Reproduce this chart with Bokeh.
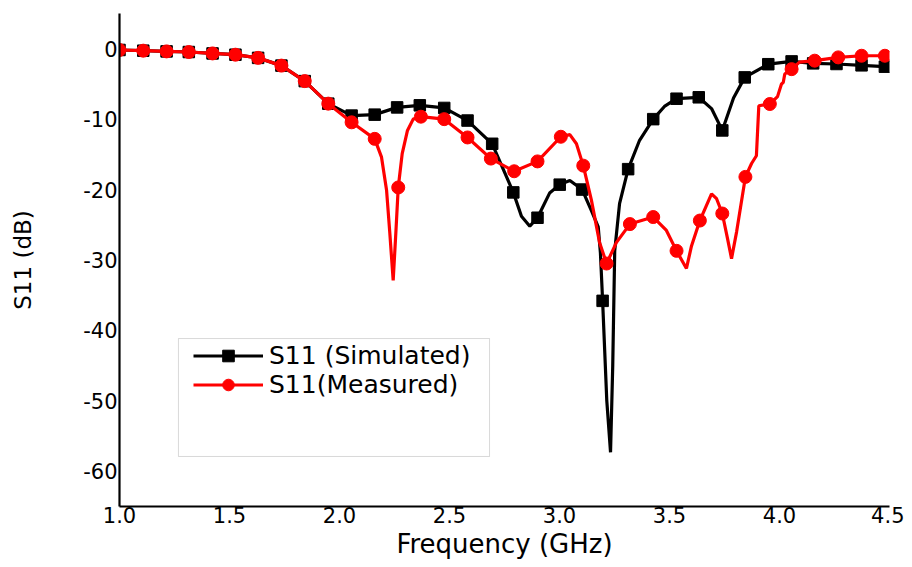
from bokeh.plotting import figure
from bokeh.models import (Range1d, FixedTicker, Legend, LegendItem, ColumnDataSource,
                          CustomJSTickFormatter, BoxAnnotation)
from bokeh.embed import file_html
from bokeh.resources import INLINE

# ---- data ----
sim_freq = [1.000, 1.108, 1.214, 1.315, 1.423, 1.527, 1.630, 1.736, 1.842, 1.949,
            2.055, 2.160, 2.262, 2.365, 2.476, 2.582, 2.694, 2.790, 2.827, 2.865,
            2.900, 2.955, 3.001, 3.047, 3.103, 3.145, 3.176, 3.186, 3.196, 3.215,
            3.232, 3.242, 3.251, 3.273, 3.312, 3.364, 3.426, 3.477, 3.532, 3.633,
            3.691, 3.740, 3.791, 3.842, 3.949, 4.055, 4.153, 4.259, 4.373, 4.479]
sim_db = [-0.18, -0.28, -0.38, -0.47, -0.67, -0.85, -1.3, -2.4, -4.6, -7.8,
          -9.5, -9.36, -8.33, -8.04, -8.41, -10.2, -13.5, -20.4, -23.8, -25.2,
          -24.0, -20.5, -19.3, -18.7, -20.0, -23.0, -25.3, -29.0, -35.8, -50.0,
          -57.3, -45.0, -28.7, -22.0, -17.1, -13.0, -10.0, -8.2, -7.1, -6.9,
          -8.5, -11.6, -7.0, -4.07, -2.2, -1.8, -2.08, -2.17, -2.36, -2.55]
sim_mark = [1, 1, 1, 1, 1, 1, 1, 1, 1, 1,
            1, 1, 1, 1, 1, 1, 1, 1, 0, 0,
            1, 0, 1, 0, 1, 0, 0, 0, 1, 0,
            0, 0, 0, 0, 1, 0, 1, 0, 1, 1,
            0, 1, 0, 1, 1, 1, 1, 1, 1, 1]

meas_freq = [1.000, 1.108, 1.214, 1.315, 1.423, 1.527, 1.630, 1.736, 1.842, 1.949,
             2.055, 2.160, 2.191, 2.214, 2.229, 2.244, 2.256, 2.267, 2.285, 2.309,
             2.335, 2.370, 2.476, 2.582, 2.688, 2.794, 2.900, 3.006, 3.047, 3.077,
             3.108, 3.145, 3.182, 3.214, 3.259, 3.320, 3.426, 3.486, 3.532, 3.577,
             3.600, 3.638, 3.691, 3.714, 3.740, 3.764, 3.782, 3.805, 3.845, 3.873,
             3.895, 3.906, 3.956, 3.991, 4.009, 4.017, 4.024, 4.055, 4.091, 4.160,
             4.267, 4.373, 4.479]
meas_db = [-0.18, -0.28, -0.38, -0.47, -0.67, -0.85, -1.3, -2.4, -4.6, -7.8,
           -10.45, -12.8, -15.4, -20.1, -26.3, -32.9, -26.2, -19.7, -14.9, -11.6,
           -10.0, -9.65, -10.0, -12.6, -15.6, -17.4, -16.0, -12.5, -12.2, -13.5,
           -16.6, -21.5, -27.5, -30.5, -27.5, -24.9, -23.9, -25.8, -28.7, -31.2,
           -28.0, -24.4, -20.6, -21.3, -23.4, -27.0, -29.8, -26.0, -18.2, -16.3,
           -15.2, -8.1, -7.85, -6.8, -5.0, -4.8, -3.6, -2.9, -1.9, -1.7,
           -1.23, -1.0, -1.0]
meas_mark = [1, 1, 1, 1, 1, 1, 1, 1, 1, 1,
             1, 1, 0, 0, 0, 0, 0, 1, 0, 0,
             0, 1, 1, 1, 1, 1, 1, 1, 0, 0,
             1, 0, 0, 1, 0, 1, 1, 0, 1, 0,
             0, 1, 0, 0, 1, 0, 0, 0, 1, 0,
             0, 0, 1, 0, 0, 0, 0, 1, 0, 1,
             1, 1, 1]

x_ticks = [1.0, 1.5, 2.0, 2.5, 3.0, 3.5, 4.0, 4.5]
y_ticks = [0, -10, -20, -30, -40, -50, -60]
sim_label = "S11 (Simulated)"
meas_label = "S11(Measured)"

FONT = "DejaVu Sans"

p = figure(width=904, height=565, output_backend="svg", toolbar_location=None,
           x_range=Range1d(1.0, 4.5), y_range=Range1d(-65, 5),
           min_border_left=119, min_border_right=15, min_border_top=13, min_border_bottom=59)
p.outline_line_color = None
p.grid.visible = False
p.background_fill_color = "white"

sim_src = ColumnDataSource(dict(x=sim_freq, y=sim_db))
sim_mk = ColumnDataSource(dict(x=[f for f, m in zip(sim_freq, sim_mark) if m],
                               y=[d for d, m in zip(sim_db, sim_mark) if m]))
meas_src = ColumnDataSource(dict(x=meas_freq, y=meas_db))
meas_mk = ColumnDataSource(dict(x=[f for f, m in zip(meas_freq, meas_mark) if m],
                                y=[d for d, m in zip(meas_db, meas_mark) if m]))

# legend frame (layout only)
p.add_layout(BoxAnnotation(left=1.268, right=2.682, top=-41.15, bottom=-57.9,
                           fill_color="white", fill_alpha=1.0,
                           line_color="#808080", line_width=1, level="underlay"))

r_sl = p.line("x", "y", source=sim_src, line_color="black", line_width=3.2)
r_sm = p.scatter("x", "y", source=sim_mk, marker="square", size=11.5, fill_color="black", line_color="black")
r_ml = p.line("x", "y", source=meas_src, line_color="#ff0000", line_width=3.2)
r_mm = p.scatter("x", "y", source=meas_mk, marker="circle", size=13, fill_color="#ff0000", line_color="#ff0000")

legend = Legend(items=[
    LegendItem(label=sim_label, renderers=[r_sl, r_sm]),
    LegendItem(label=meas_label, renderers=[r_ml, r_mm]),
], location=(74, 107))
legend.label_text_font = FONT
legend.label_text_font_size = "25px"
legend.label_text_color = "black"
legend.glyph_width = 70
legend.glyph_height = 29
legend.label_height = 29
legend.label_standoff = 6
legend.spacing = 0
legend.padding = 0
legend.margin = 0
legend.border_line_color = None
legend.background_fill_alpha = 0
p.add_layout(legend, "center")

for ax in (p.xaxis[0], p.yaxis[0]):
    ax.axis_line_width = 2.2
    ax.axis_line_color = "black"
    ax.major_tick_line_color = None
    ax.minor_tick_line_color = None
    ax.major_tick_out = 0
    ax.major_tick_in = 0
    ax.minor_tick_out = 0
    ax.major_label_text_font = FONT
    ax.major_label_text_font_size = "21px"
    ax.major_label_text_color = "black"
    ax.axis_label_text_font = FONT
    ax.axis_label_text_font_style = "normal"
    ax.axis_label_text_color = "black"

p.xaxis[0].axis_label_text_font_size = "26px"
p.yaxis[0].axis_label_text_font_size = "23px"
p.xaxis[0].ticker = FixedTicker(ticks=x_ticks)
p.yaxis[0].ticker = FixedTicker(ticks=y_ticks)
p.xaxis[0].formatter = CustomJSTickFormatter(code="return tick.toFixed(1);")
p.yaxis[0].formatter = CustomJSTickFormatter(code="return tick.toFixed(0);")
p.xaxis[0].axis_label = "Frequency (GHz)"
p.yaxis[0].axis_label = "S11 (dB)"
p.xaxis[0].major_label_standoff = 0
p.yaxis[0].major_label_standoff = 2
p.xaxis[0].axis_label_standoff = 3
p.yaxis[0].axis_label_standoff = 44

open("out.html", "w").write(file_html(p, INLINE))
